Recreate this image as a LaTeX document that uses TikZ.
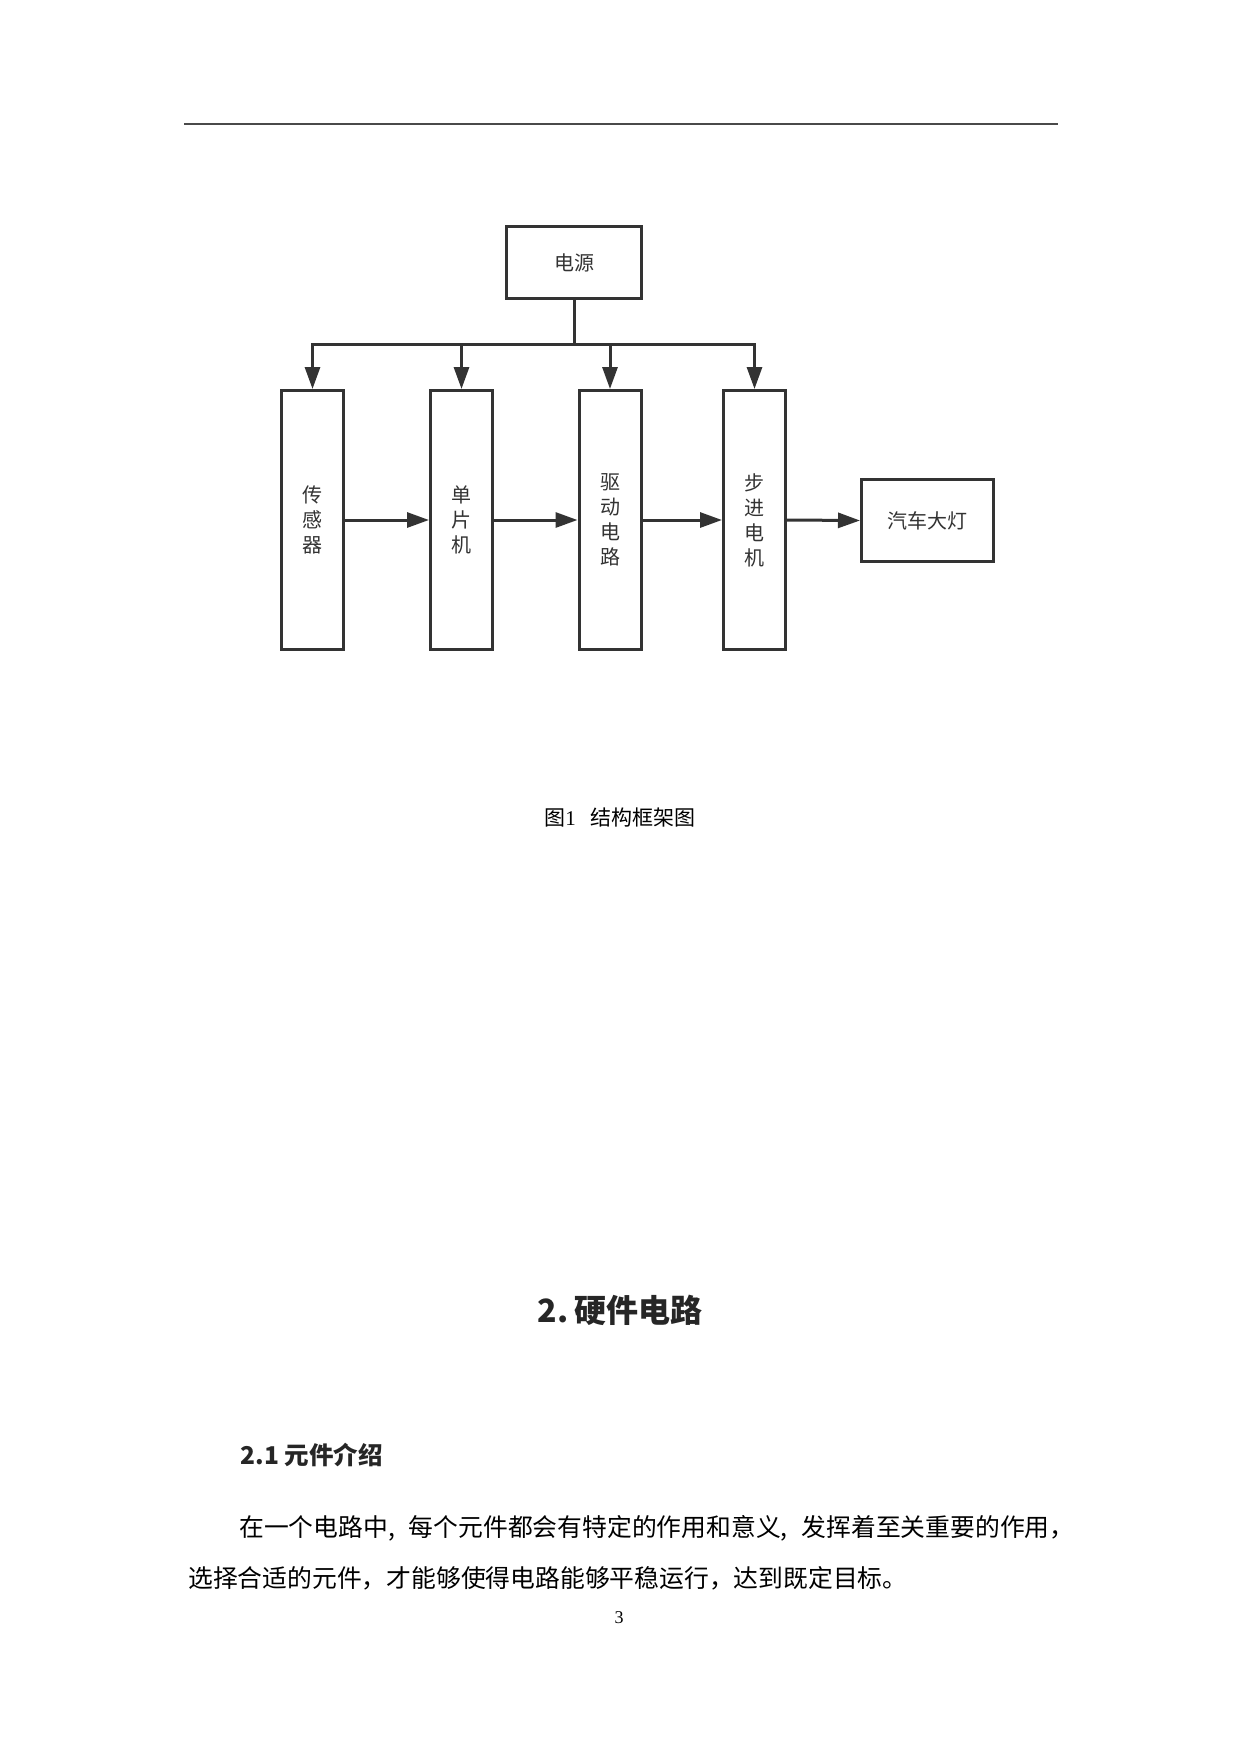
\documentclass[tikz,border=0pt]{standalone}
\usepackage{fontspec}
\setmainfont{Liberation Serif}
\newfontfamily\cjk{Noto Sans CJK SC}
\usetikzlibrary{arrows.meta}
\definecolor{ink}{HTML}{333333}
\definecolor{rule}{HTML}{4A4A4A}
\begin{document}
\begin{tikzpicture}[x=1pt,y=-1pt,
  blk/.style={draw=ink, line width=3pt, fill=white, inner sep=0pt, text=ink,
    font=\cjk\fontsize{20}{25}\selectfont, align=center},
  tallbox/.style={blk, minimum width=62pt, minimum height=259pt},
  conn/.style={draw=ink, line width=3pt, -{Triangle[length=22pt,width=15pt]}},
  wire/.style={draw=ink, line width=3pt},
  bodytext/.style={font=\cjk\fontsize{24.8}{24.8}\selectfont, inner sep=0pt}
]
\useasboundingbox[fill=white] (0,0) rectangle (1240,1754);

% header rule
\draw[rule, line width=2pt] (184,124) -- (1058,124);

% blocks
\node[blk, minimum width=135pt, minimum height=72pt] (pw) at (574,262.5) {电源};
\node[tallbox] (b1) at (312.5,520) {传\\感\\器};
\node[tallbox] (b2) at (461.5,520) {单\\片\\机};
\node[tallbox] (b3) at (610,520) {驱\\动\\电\\路};
\node[tallbox] (b4) at (754.5,520) {步\\进\\电\\机};
\node[blk, minimum width=132pt, minimum height=82pt] (lamp) at (927.5,520.5) {汽车大灯};

% power bus
\coordinate (bus) at (574,344);
\draw[wire] (pw.south) -- (bus);
\draw[wire, line cap=butt] ([xshift=-1.5pt]b1.north |- bus) -- ([xshift=1.5pt]b4.north |- bus);
\draw[conn] (b1.north |- bus) -- (b1.north);
\draw[conn] (b2.north |- bus) -- (b2.north);
\draw[conn] (b3.north |- bus) -- (b3.north);
\draw[conn] (b4.north |- bus) -- (b4.north);

% signal chain
\draw[conn] (b1.east) -- (b2.west);
\draw[conn] (b2.east) -- (b3.west);
\draw[conn] (b3.east) -- (b4.west);
\draw[conn] (b4.east) -- (lamp.west);

% caption
\node[font=\cjk\fontsize{21}{21}\selectfont] (cap) at (620,817) {图{\rmfamily 1}\hspace{0.7em}结构框架图};

% section heading
\node[font=\cjk\bfseries\fontsize{32}{32}\selectfont, text=black!85] (sec) at (620,1310) {2.\,硬件电路};
\node[anchor=west, font=\cjk\bfseries\fontsize{24.5}{24.5}\selectfont, text=black!85] (sub) at (237,1455) {2.1 元件介绍};

% paragraph
\node[bodytext, anchor=west] (p1) at (239,1528) {在一个电路中,\hspace{14pt}每个元件都会有特定的作用和意义,\hspace{14pt}发挥着至关重要的作用，};
\node[bodytext, anchor=west] (p2) at (188,1578) {选择合适的元件，才能够使得电路能够平稳运行，达到既定目标。};

% page number
\node[font=\fontsize{18}{18}\selectfont] (pg) at (619,1618) {3};
\end{tikzpicture}
\end{document}
